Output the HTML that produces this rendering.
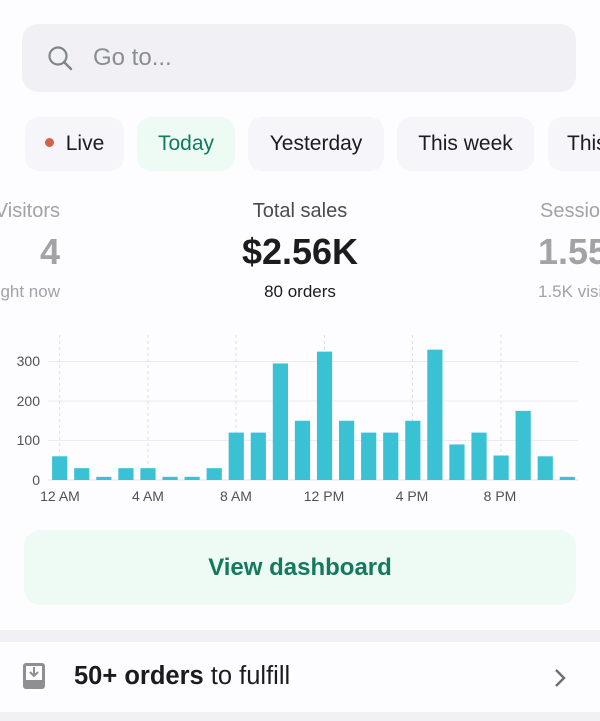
<!DOCTYPE html>
<html><head><meta charset="utf-8"><style>
body{margin:0;width:600px;height:721px;background:#fdfdff;position:relative;overflow:hidden;font-family:"Liberation Sans",sans-serif;}
.a{position:absolute}
.chip{position:absolute;top:117px;height:54px;border-radius:14px;background:#f6f6fa;font-size:21px;line-height:54px;text-align:center;color:#1c1c1e;overflow:hidden;white-space:nowrap}
.stat{position:absolute;text-align:center;white-space:nowrap}
</style></head><body>
<div class="a" style="left:22px;top:24px;width:554px;height:68px;border-radius:16px;background:#f1f1f5"></div>
<svg class="a" style="left:46px;top:44px" width="30" height="30"><circle cx="12" cy="12" r="8.5" fill="none" stroke="#80848b" stroke-width="2.2"/><line x1="18" y1="18" x2="25" y2="25" stroke="#80848b" stroke-width="2.4" stroke-linecap="round"/></svg>
<div class="a" style="left:93px;top:44px;font-size:24px;color:#8a8d93">Go to...</div>

<div class="chip" style="left:25px;width:99px"><span style="display:inline-block;width:9px;height:9px;border-radius:50%;background:#d2614a;vertical-align:middle;margin-right:12px;position:relative;top:-2px"></span>Live</div>
<div class="chip" style="left:137px;width:98px;background:#eefbf5;color:#137a5c">Today</div>
<div class="chip" style="left:248px;width:136px">Yesterday</div>
<div class="chip" style="left:397px;width:137px">This week</div>
<div class="chip" style="left:548px;width:52px;border-radius:14px 0 0 14px;text-align:left;padding-left:19px;box-sizing:border-box">This month</div>

<div class="stat" style="left:-40px;width:100px;text-align:right;top:200px;font-size:20px;color:#a2a2a7">Visitors</div>
<div class="stat" style="left:-40px;width:100px;text-align:right;top:231px;font-size:36px;font-weight:bold;color:#a2a2a7">4</div>
<div class="stat" style="left:-40px;width:100px;text-align:right;top:282px;font-size:17px;color:#a2a2a7">Right now</div>

<div class="stat" style="left:150px;width:300px;top:200px;font-size:20px;color:#4a4a4f">Total sales</div>
<div class="stat" style="left:150px;width:300px;top:231px;font-size:36px;font-weight:bold;color:#1c1c1e">$2.56K</div>
<div class="stat" style="left:150px;width:300px;top:282px;font-size:17px;color:#1c1c1e">80 orders</div>

<div class="a" style="left:540px;top:200px;width:60px;overflow:hidden;font-size:20px;color:#a2a2a7;white-space:nowrap">Sessions</div>
<div class="a" style="left:538px;top:231px;width:62px;overflow:hidden;font-size:36px;font-weight:bold;color:#a2a2a7;white-space:nowrap">1.55K</div>
<div class="a" style="left:538px;top:282px;width:62px;overflow:hidden;font-size:17px;color:#a2a2a7;white-space:nowrap">1.5K visitors</div>

<svg class="a" style="left:0;top:330px" width="600" height="180" font-family="Liberation Sans, sans-serif">
<g stroke="#ececf0" stroke-width="1">
<line x1="48" y1="31.5" x2="578" y2="31.5"/><line x1="48" y1="71" x2="578" y2="71"/><line x1="48" y1="110.5" x2="578" y2="110.5"/>
</g>
<g stroke="#dedee4" stroke-dasharray="3,3">
<line x1="59.7" y1="5" x2="59.7" y2="150"/><line x1="148" y1="5" x2="148" y2="150"/><line x1="236" y1="5" x2="236" y2="150"/><line x1="324.5" y1="5" x2="324.5" y2="150"/><line x1="412.5" y1="5" x2="412.5" y2="150"/><line x1="501" y1="5" x2="501" y2="150"/>
</g>
<line x1="48" y1="150" x2="578" y2="150" stroke="#e4e4ea"/>
<g fill="#505055" font-size="14" text-anchor="end">
<text x="40" y="36">300</text><text x="40" y="76">200</text><text x="40" y="115">100</text><text x="40" y="155">0</text>
</g>
<g fill="#505055" font-size="14" text-anchor="middle">
<text x="60" y="171">12 AM</text><text x="148" y="171">4 AM</text><text x="236" y="171">8 AM</text><text x="324" y="171">12 PM</text><text x="412" y="171">4 PM</text><text x="500" y="171">8 PM</text>
</g>
<g id="bars" fill="#3bc1d4"></g>
</svg>
<script>
var v=[60,30,8,30,30,8,8,30,120,120,295,150,325,150,120,120,150,330,90,120,62,175,60,8];
var g=document.getElementById('bars'),s='';
for(var i=0;i<24;i++){var c=59.7+22.07*i,h=v[i]*0.395;s+='<rect x="'+(c-7.6)+'" y="'+(150-h)+'" width="15.2" height="'+h+'"/>';}
g.innerHTML=s;
</script>

<div class="a" style="left:24px;top:530px;width:552px;height:75px;border-radius:16px;background:#eefbf5;text-align:center;line-height:75px;font-size:24px;font-weight:bold;color:#137a5c">View dashboard</div>

<div class="a" style="left:0;top:630px;width:600px;height:12px;background:#f1f1f5"></div>
<div class="a" style="left:0;top:712px;width:600px;height:9px;background:#f1f1f5"></div>
<svg class="a" style="left:22px;top:662px" width="26" height="30"><rect x="1" y="1" width="22" height="26" rx="3" fill="#8e8e93"/><rect x="4" y="4" width="16" height="14" fill="#fff"/><path d="M12 5v9M8 10l4 4 4-4" stroke="#8e8e93" stroke-width="2" fill="none"/></svg>
<div class="a" style="left:74px;top:662px;font-size:25.5px;color:#1c1c1e;white-space:nowrap"><b>50+ orders</b> to fulfill</div>
<svg class="a" style="left:552px;top:667px" width="16" height="22"><path d="M4 3l8 8-8 8" stroke="#6d6d72" stroke-width="2.4" fill="none"/></svg>
</body></html>
